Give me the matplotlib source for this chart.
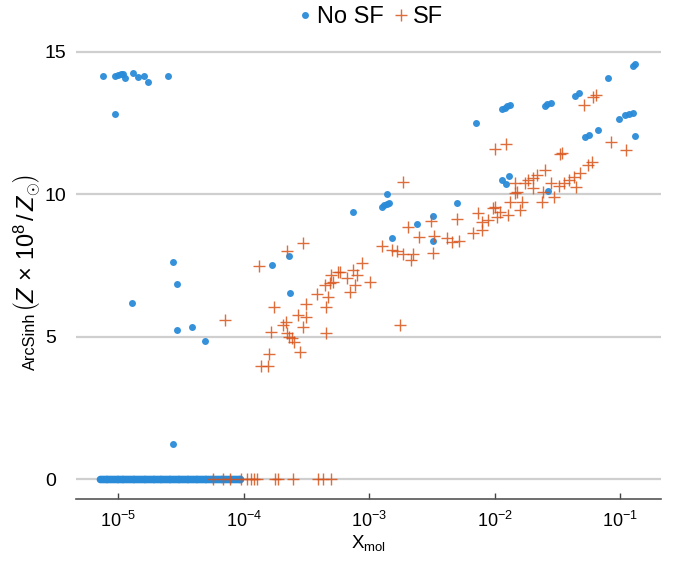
import numpy as np
import matplotlib
matplotlib.use("Agg")
import matplotlib.pyplot as plt

plt.rcParams['font.family'] = ['Liberation Sans', 'DejaVu Sans']
plt.rcParams['mathtext.fontset'] = 'custom'
plt.rcParams['mathtext.rm'] = 'Liberation Sans'
plt.rcParams['mathtext.it'] = 'Liberation Sans:italic'
plt.rcParams['mathtext.bf'] = 'Liberation Sans:bold'
plt.rcParams['axes.unicode_minus'] = False

# ---- data (log10 of X_mol, ArcSinh value) ----
nosf_log10_x = [-5.122, -5.026, -5.002, -4.98, -4.963, -4.947, -4.883, -4.843, -4.795, -4.763, -4.604, -5.026,
                -4.562, -4.532, -4.89, -4.532, -4.412, -4.31, -4.56, -3.773, -3.64, -3.63,
                -3.128, -2.857, -2.9, -2.88, -2.86, -2.84, -2.82, -2.617, -2.49, -2.49, -2.3,
                -2.147, -1.94, -1.92, -1.9, -1.88, -1.6, -1.58, -1.55, -1.36, -1.33, -1.095,
                -0.9, -0.88, -1.28, -1.25, -1.175, -1.008, -0.96, -0.93, -0.9, -0.88,
                -1.94, -1.885, -1.91, -1.57]
nosf_y = [14.14, 14.14, 14.18, 14.2, 14.21, 14.07, 14.25, 14.1, 14.14, 13.93, 14.14, 12.8,
          7.61, 6.84, 6.18, 5.23, 5.33, 4.84, 1.23, 7.51, 7.82, 6.53,
          9.37, 10.0, 9.55, 9.6, 9.65, 9.7, 8.46, 8.95, 9.23, 8.35, 9.68,
          12.49, 12.98, 13.03, 13.08, 13.12, 13.1, 13.15, 13.2, 13.45, 13.54, 14.07,
          14.5, 14.56, 12.0, 12.07, 12.25, 12.63, 12.77, 12.8, 12.84, 12.04,
          10.49, 10.63, 10.35, 10.1]

# dense band of No SF points at zero (X_mol in units of 1e-6)
nosf_zero_x_e6 = [7.2, 7.45, 7.7, 7.95, 8.2, 8.5, 8.8, 9.1, 9.4, 9.7,
                  10.0, 10.3, 10.65, 11.0, 11.4, 11.8, 12.2, 12.6, 13.0, 13.4, 13.9, 14.4,
                  14.9, 15.4, 15.9, 16.4, 17.0, 17.6, 18.2, 18.8, 19.4, 20.0, 20.7, 21.4,
                  22.1, 22.8, 23.6, 24.4, 25.2, 26.0, 26.9, 27.8, 28.7, 29.7, 30.7, 31.7,
                  32.8, 33.9, 35.0, 36.2, 37.4, 38.7, 40.0, 41.3, 42.7, 44.1, 45.6, 47.1,
                  48.7, 50.3, 52.0, 53.7, 55.5, 57.4, 59.3, 61.3, 63.4, 65.5, 67.7, 70.0,
                  72.3, 74.7, 77.2, 79.8, 82.5, 85.3, 88.2, 91.2, 94.0]

sf_log10_x = [-4.147, -3.876, -3.655, -3.527, -3.758, -3.782, -3.8, -3.862, -3.806, -3.686, -3.664,
              -3.655, -3.637, -3.617, -3.6, -3.55, -3.567, -3.5, -3.5, -3.527, -3.414, -3.345,
              -3.345, -3.33, -3.353, -3.31, -3.29, -3.3, -3.25, -3.23, -3.18, -3.13, -3.1, -3.11,
              -3.055, -3.15, -2.99, -2.75, -2.9, -2.82, -2.78, -2.73, -2.67, -2.65, -2.69, -2.73,
              -2.6, -2.51, -2.48, -2.49, -2.38, -2.34, -2.28, -2.3, -2.17, -2.13, -2.1, -2.1,
              -2.05, -2.01, -1.98, -1.955, -1.995, -1.89, -1.875, -1.835, -1.82, -1.8, -1.78,
              -1.835, -1.755, -1.73, -1.69, -1.66, -1.69, -1.62, -1.6, -1.55, -1.53, -1.61,
              -1.49, -1.45, -1.41, -1.37, -1.35, -1.32, -1.255, -1.22, -1.46, -1.48, -0.95,
              -1.995, -1.905, -1.29, -1.215, -1.19, -1.07]
sf_y = [5.58, 7.47, 8.0, 8.28, 6.04, 5.16, 4.39, 3.96, 3.96, 5.4, 5.51,
        5.12, 4.98, 4.95, 4.81, 4.46, 5.75, 5.68, 6.14, 5.33, 6.49, 6.04,
        5.12, 6.39, 6.81, 6.88, 6.91, 7.16, 7.26, 7.26, 7.05, 7.33, 7.16, 6.81,
        7.58, 6.56, 6.91, 5.4, 8.18, 8.04, 8.0, 7.89, 7.68, 7.89, 8.84, 10.42,
        8.49, 9.05, 8.53, 7.93, 8.46, 8.32, 8.35, 9.12, 8.63, 9.33, 8.74, 9.02,
        9.09, 9.5, 9.19, 9.37, 9.54, 9.26, 9.72, 10.04, 10.07, 9.44, 9.72,
        10.39, 10.39, 10.49, 10.56, 10.67, 10.21, 9.72, 10.84, 10.39, 9.89, 10.07,
        10.28, 10.39, 10.49, 10.6, 10.25, 10.74, 11.02, 11.12, 11.44, 11.4, 11.54,
        11.58, 11.75, 13.12, 13.4, 13.47, 11.82]

sf_zero_x = [5.69e-5, 6.84e-5, 7.78e-5, 9.53e-5, 1.06e-4, 1.14e-4, 1.21e-4, 1.28e-4,
             1.78e-4, 1.88e-4, 2.47e-4, 3.91e-4, 4.28e-4, 4.96e-4]

y_ticks = [0, 5, 10, 15]
x_ticks = [1e-5, 1e-4, 1e-3, 1e-2, 1e-1]

blue = '#2a8bd8'
orange = '#d9531a'

fig = plt.figure(figsize=(6.8, 5.63), dpi=100)
ax = fig.add_axes([76/680, 63.7/563, 585/680, 464.3/563])

ax.set_xscale('log')
ax.set_xlim(10**-5.337, 10**-0.673)
ax.set_ylim(-0.71, 15.58)

for y in y_ticks:
    ax.axhline(y, color='#cfcfcf', lw=1.6, zorder=0)

nosf_zero_x = np.array(nosf_zero_x_e6) * 1e-6
ax.plot(nosf_zero_x, np.zeros(len(nosf_zero_x)), 'o', color=blue, ms=5.5, mec='none', zorder=3)
ax.plot(10**np.array(nosf_log10_x), nosf_y, 'o', color=blue, ms=5, mec='none', alpha=0.95, zorder=3,
        label='No SF')
ax.plot(10**np.array(sf_log10_x), sf_y, '+', color=orange, ms=9, mew=1.0, alpha=0.85, zorder=4,
        label='SF')
ax.plot(sf_zero_x, np.zeros(len(sf_zero_x)), '+', color=orange, ms=9, mew=1.0, alpha=0.85, zorder=4)

ax.set_yticks(y_ticks)
ax.set_xticks(x_ticks)
ax.minorticks_off()
ax.tick_params(axis='y', length=0, labelsize=14, pad=22.5)
for lab in ax.get_yticklabels():
    lab.set_horizontalalignment('left')
ax.tick_params(axis='x', direction='in', length=4, width=1, color='#444444', labelsize=13, pad=8)

for s in ['top', 'right', 'left']:
    ax.spines[s].set_visible(False)
ax.spines['bottom'].set_color('#555555')
ax.spines['bottom'].set_linewidth(1.2)

ax.set_xlabel(r'X$_{\mathrm{mol}}$', fontsize=13.5, labelpad=2)

# y label: plain text part and larger math part
ylab_x = (35 - 76) / 585
ylab_y = (499.3 - 312) / 464.3
ax.text(ylab_x, ylab_y, 'ArcSinh', rotation=90, rotation_mode='anchor', ha='right', va='baseline',
        fontsize=11.8, transform=ax.transAxes)
ax.text(ylab_x, ylab_y, r'$\left(Z\,\times\,10^{8}\,/\,Z_{\odot}\right)$', rotation=90,
        rotation_mode='anchor', ha='left', va='baseline', fontsize=17, transform=ax.transAxes)

leg = ax.legend(loc='center', bbox_to_anchor=(0.5, 1 + 18/464.3), ncol=2, frameon=False,
                fontsize=17, handletextpad=0.05, columnspacing=0.3, handlelength=0.9,
                borderaxespad=0)

fig.savefig('out.png', dpi=100)
